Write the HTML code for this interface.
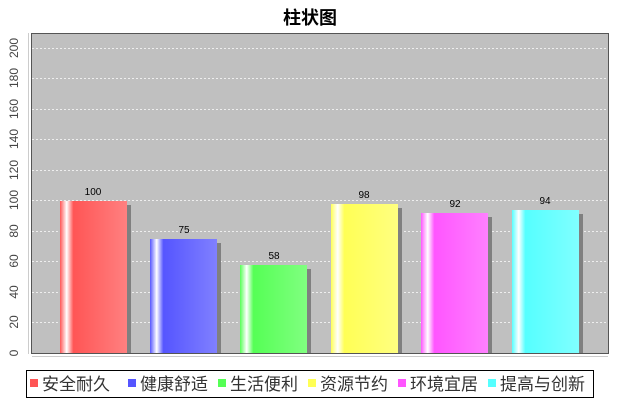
<!DOCTYPE html><html><head><meta charset="utf-8"><style>
body{margin:0;width:620px;height:400px;background:#fff;font-family:"Liberation Sans","Noto Sans CJK SC",sans-serif;position:relative;overflow:hidden}
.a{position:absolute}
</style></head><body>
<div class="a" style="left:0;width:620px;top:4px;text-align:center;font-size:18px;font-weight:bold">柱状图</div>
<svg class="a" style="left:0;top:0" width="620" height="400">
<defs>
<linearGradient id="g0"><stop offset="0" stop-color="#ff5555"/><stop offset="0.1" stop-color="#fff"/><stop offset="0.2" stop-color="#ff5555"/><stop offset="1" stop-color="#ff8080"/></linearGradient>
<linearGradient id="g1"><stop offset="0" stop-color="#5555ff"/><stop offset="0.1" stop-color="#fff"/><stop offset="0.2" stop-color="#5555ff"/><stop offset="1" stop-color="#8080ff"/></linearGradient>
<linearGradient id="g2"><stop offset="0" stop-color="#55ff55"/><stop offset="0.1" stop-color="#fff"/><stop offset="0.2" stop-color="#55ff55"/><stop offset="1" stop-color="#80ff80"/></linearGradient>
<linearGradient id="g3"><stop offset="0" stop-color="#ffff55"/><stop offset="0.1" stop-color="#fff"/><stop offset="0.2" stop-color="#ffff55"/><stop offset="1" stop-color="#ffff80"/></linearGradient>
<linearGradient id="g4"><stop offset="0" stop-color="#ff55ff"/><stop offset="0.1" stop-color="#fff"/><stop offset="0.2" stop-color="#ff55ff"/><stop offset="1" stop-color="#ff80ff"/></linearGradient>
<linearGradient id="g5"><stop offset="0" stop-color="#55ffff"/><stop offset="0.1" stop-color="#fff"/><stop offset="0.2" stop-color="#55ffff"/><stop offset="1" stop-color="#80ffff"/></linearGradient>
</defs>
<rect x="31.5" y="33.5" width="577" height="320" fill="#c0c0c0" stroke="#555"/>
<g stroke="#eee" stroke-dasharray="2,2" stroke-width="1">
<line x1="32" x2="608" y1="322.5" y2="322.5"/><line x1="32" x2="608" y1="292.5" y2="292.5"/><line x1="32" x2="608" y1="261.5" y2="261.5"/><line x1="32" x2="608" y1="231.5" y2="231.5"/><line x1="32" x2="608" y1="200.5" y2="200.5"/><line x1="32" x2="608" y1="170.5" y2="170.5"/><line x1="32" x2="608" y1="139.5" y2="139.5"/><line x1="32" x2="608" y1="109.5" y2="109.5"/><line x1="32" x2="608" y1="78.5" y2="78.5"/><line x1="32" x2="608" y1="48.5" y2="48.5"/>
</g>
<line x1="28.5" x2="28.5" y1="33" y2="354" stroke="#ccc"/>
<line x1="32" x2="608" y1="356.5" y2="356.5" stroke="#ccc"/>
<g fill="#808080">
<rect x="64" y="205" width="67" height="148"/><rect x="154" y="243" width="67" height="110"/><rect x="244" y="269" width="67" height="84"/><rect x="335" y="208" width="67" height="145"/><rect x="425" y="217" width="67" height="136"/><rect x="516" y="214" width="67" height="139"/>
</g>
<rect x="60" y="201" width="67" height="152" fill="url(#g0)"/>
<rect x="150" y="239" width="67" height="114" fill="url(#g1)"/>
<rect x="240" y="265" width="67" height="88" fill="url(#g2)"/>
<rect x="331" y="204" width="67" height="149" fill="url(#g3)"/>
<rect x="421" y="213" width="67" height="140" fill="url(#g4)"/>
<rect x="512" y="210" width="67" height="143" fill="url(#g5)"/>
<g font-size="10" text-anchor="middle" font-family="Liberation Sans,sans-serif">
<text x="93" y="195">100</text><text x="184" y="233">75</text><text x="274" y="259">58</text><text x="364" y="198">98</text><text x="455" y="207">92</text><text x="545" y="204">94</text>
</g>
<g font-size="12" fill="#444" text-anchor="middle" font-family="Liberation Sans,sans-serif">
<text transform="translate(18,353) rotate(-90)">0</text><text transform="translate(18,322) rotate(-90)">20</text><text transform="translate(18,292) rotate(-90)">40</text><text transform="translate(18,261) rotate(-90)">60</text><text transform="translate(18,231) rotate(-90)">80</text><text transform="translate(18,200) rotate(-90)">100</text><text transform="translate(18,170) rotate(-90)">120</text><text transform="translate(18,139) rotate(-90)">140</text><text transform="translate(18,109) rotate(-90)">160</text><text transform="translate(18,78) rotate(-90)">180</text><text transform="translate(18,48) rotate(-90)">200</text>
</g>
<rect x="26.5" y="370.5" width="567" height="27" fill="#fff" stroke="#000"/>
<g font-size="17" fill="#333" font-family="Liberation Sans,Noto Sans CJK SC,sans-serif">
<rect x="30" y="379" width="8" height="8" fill="#ff5555"/><text x="42" y="390">安全耐久</text>
<rect x="128" y="379" width="8" height="8" fill="#5555ff"/><text x="140" y="390">健康舒适</text>
<rect x="218" y="379" width="8" height="8" fill="#55ff55"/><text x="230" y="390">生活便利</text>
<rect x="308" y="379" width="8" height="8" fill="#ffff55"/><text x="320" y="390">资源节约</text>
<rect x="398" y="379" width="8" height="8" fill="#ff55ff"/><text x="410" y="390">环境宜居</text>
<rect x="488" y="379" width="8" height="8" fill="#55ffff"/><text x="500" y="390">提高与创新</text>
</g>
</svg>
</body></html>
